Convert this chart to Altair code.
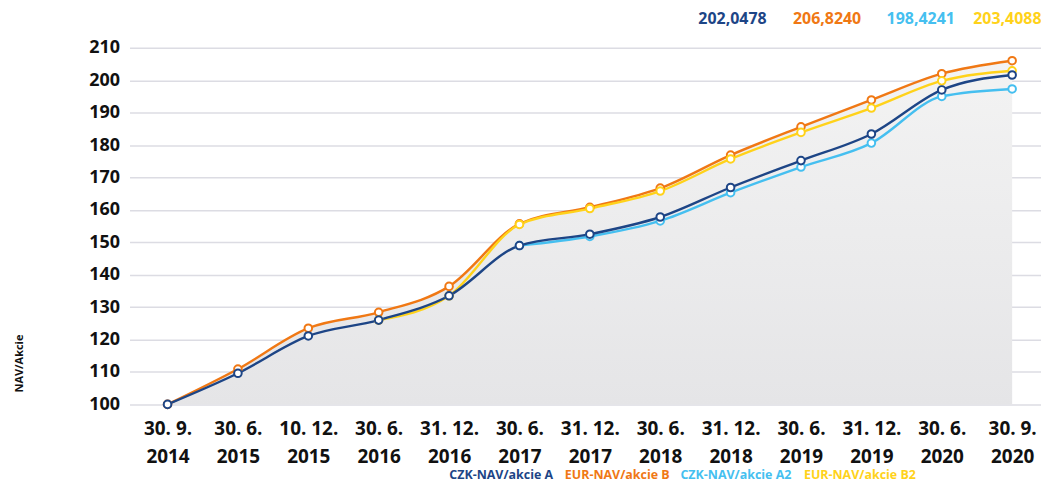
import altair as alt
import pandas as pd

dates = [["30. 9.", "2014"], ["30. 6.", "2015"], ["10. 12.", "2015"], ["30. 6.", "2016"],
         ["31. 12.", "2016"], ["30. 6.", "2017"], ["31. 12.", "2017"], ["30. 6.", "2018"],
         ["31. 12.", "2018"], ["30. 6.", "2019"], ["31. 12.", "2019"], ["30. 6.", "2020"],
         ["30. 9.", "2020"]]

czk_a = [100.0, 109.6, 121.1, 126.0, 133.5, 149.0, 152.5, 157.8, 166.9, 175.2, 183.4, 197.0, 201.6]
eur_b = [100.0, 110.9, 123.5, 128.4, 136.4, 155.7, 160.8, 166.7, 176.9, 185.6, 193.9, 202.0, 206.0]
czk_a2 = [None, None, None, None, None, 149.0, 151.8, 156.6, 165.3, 173.2, 180.6, 195.0, 197.3]
eur_b2 = [None, None, None, 126.0, 133.5, 155.5, 160.4, 165.8, 175.7, 183.9, 191.4, 199.8, 202.9]

series_names = ["CZK-NAV/akcie A", "EUR-NAV/akcie B", "CZK-NAV/akcie A2", "EUR-NAV/akcie B2"]
series_colors = ["#1d4586", "#f07814", "#45bff0", "#ffd21a"]
last_values = ["202,0478", "206,8240", "198,4241", "203,4088"]
y_ticks = [100, 110, 120, 130, 140, 150, 160, 170, 180, 190, 200, 210]
y_title = "NAV/Akcie"

FONT = "Open Sans"
W, H = 915, 358
n = len(dates)

rows = []
for name, vals in zip(series_names, [czk_a, eur_b, czk_a2, eur_b2]):
    for i, v in enumerate(vals):
        if v is not None:
            rows.append({"series": name, "idx": i, "value": v})
df = pd.DataFrame(rows)

area_df = pd.DataFrame({"idx": list(range(n)), "value": eur_b})

label_js = "[" + ",".join("['%s','%s']" % (a, b) for a, b in dates) + "][datum.value]"

xscale = alt.Scale(domain=[-0.54, n - 1 + 0.41], nice=False, zero=False)
yscale = alt.Scale(domain=[100, 210], nice=False, zero=False)

x_axis = alt.Axis(values=list(range(n)), labelExpr=label_js, title=None,
                  grid=False, domain=False, ticks=False, labelFont=FONT,
                  labelFontSize=19, labelFontWeight="bold", labelColor="#111111",
                  labelPadding=15, labelLineHeight=28, labelOverlap=False,
                  labelBaseline="top", labelFlush=False)
y_axis = alt.Axis(values=y_ticks, title=None, grid=True, gridColor="#dcdce3",
                  gridWidth=1.5, domain=False, ticks=False, labelFont=FONT,
                  labelFontSize=18, labelFontWeight="bold", labelColor="#111111",
                  labelPadding=10)


def xe():
    return alt.X("idx:Q", scale=xscale, axis=x_axis)


def ye():
    return alt.Y("value:Q", scale=yscale, axis=y_axis)


area = alt.Chart(area_df).mark_area(
    interpolate="monotone",
    color=alt.Gradient(gradient="linear", x1=0, x2=0, y1=0, y2=1,
                       stops=[alt.GradientStop(color="#f3f3f3", offset=0),
                              alt.GradientStop(color="#e5e5e7", offset=1)])
).encode(x=xe(), y=ye(), y2=alt.datum(100))

layers = [area]
order = [1, 3, 2, 0]
for k in order:
    name = series_names[k]
    col = series_colors[k]
    sub = alt.Chart(df).transform_filter(alt.datum.series == name)
    layers.append(sub.mark_line(interpolate="monotone", strokeWidth=2.4, color=col)
                  .encode(x=xe(), y=ye()))
for k in order:
    name = series_names[k]
    col = series_colors[k]
    sub = alt.Chart(df).transform_filter(alt.datum.series == name)
    layers.append(sub.mark_point(shape="circle", filled=True, fill="white", stroke=col,
                                 strokeWidth=2, size=58, opacity=1)
                  .encode(x=xe(), y=ye()))

# header values and bottom legend
head_x = [571, 666, 760, 847]
leg_x = [321, 437, 553, 677]
for k in range(4):
    layers.append(alt.Chart(pd.DataFrame({"t": [last_values[k]]})).mark_text(
        font=FONT, fontSize=16, fontWeight="bold", color=series_colors[k],
        align="left", baseline="middle").encode(
        text="t:N", x=alt.value(head_x[k]), y=alt.value(-29)))
    layers.append(alt.Chart(pd.DataFrame({"t": [series_names[k]]})).mark_text(
        font=FONT, fontSize=12.5, fontWeight="bold", color=series_colors[k],
        align="left", baseline="middle").encode(
        text="t:N", x=alt.value(leg_x[k]), y=alt.value(429)))

layers.append(alt.Chart(pd.DataFrame({"t": [y_title]})).mark_text(
    font=FONT, fontSize=11, fontWeight="bold", color="#111111", angle=270,
    align="center", baseline="middle").encode(
    text="t:N", x=alt.value(-110), y=alt.value(317)))

chart = alt.layer(*layers).properties(
    width=W, height=H,
    autosize=alt.AutoSizeParams(type="none"),
    padding={"left": 122, "top": 39, "right": 0, "bottom": 80},
).configure_view(stroke=None)

chart.save("out.html", embed_options={"renderer": "svg", "actions": False})
